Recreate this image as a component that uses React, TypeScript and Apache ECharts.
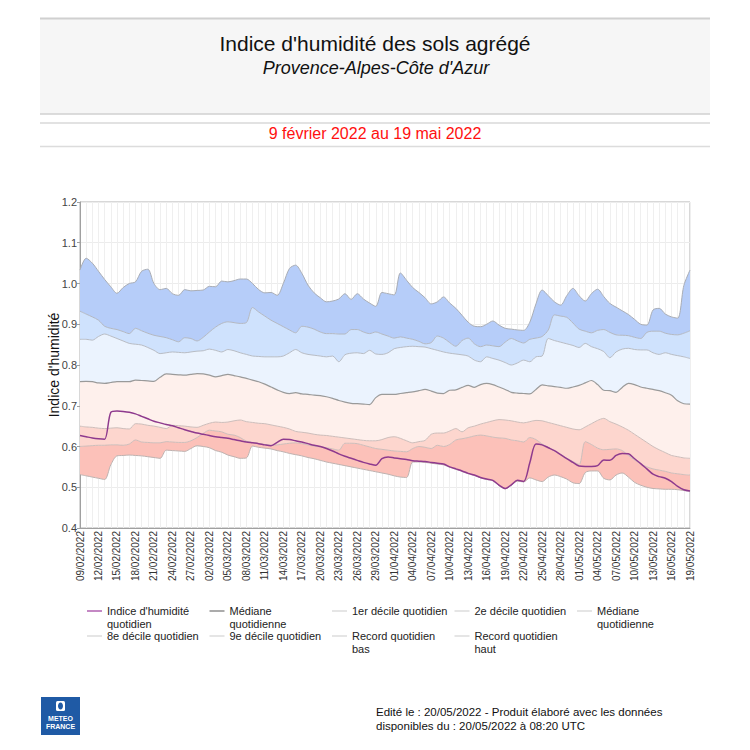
import { useEffect, useRef } from "react";
import * as echarts from "echarts";

// Categories: daily dates from 09/02/2022 to 19/05/2022
const START = Date.UTC(2022, 1, 9);
const dates: string[] = Array.from({ length: 100 }, (_, i) => {
  const d = new Date(START + i * 86400000);
  const dd = String(d.getUTCDate()).padStart(2, "0");
  const mm = String(d.getUTCMonth() + 1).padStart(2, "0");
  return `${dd}/${mm}/${d.getUTCFullYear()}`;
});

const indice = [
  0.627, 0.624, 0.621, 0.619, 0.618, 0.684, 0.687, 0.686, 0.684, 0.68,
  0.674, 0.668, 0.662, 0.658, 0.654, 0.651, 0.646, 0.641, 0.637, 0.633,
  0.63, 0.627, 0.624, 0.622, 0.62, 0.617, 0.614, 0.611, 0.609, 0.607,
  0.604, 0.602, 0.61, 0.618, 0.617, 0.614, 0.611, 0.607, 0.603, 0.6,
  0.595, 0.589, 0.582, 0.576, 0.571, 0.566, 0.561, 0.557, 0.554, 0.57,
  0.574, 0.572, 0.57, 0.568, 0.565, 0.564, 0.563, 0.561, 0.559, 0.557,
  0.55, 0.545, 0.54, 0.534, 0.53, 0.524, 0.52, 0.517, 0.505, 0.497,
  0.506, 0.517, 0.514, 0.56, 0.606, 0.604, 0.597, 0.59, 0.58, 0.57,
  0.561, 0.552, 0.551, 0.551, 0.553, 0.567, 0.566, 0.578, 0.583, 0.582,
  0.57, 0.558, 0.545, 0.532, 0.526, 0.522, 0.514, 0.502, 0.494, 0.491,
];

const recordBas = [
  0.531, 0.528, 0.525, 0.522, 0.519, 0.555, 0.577, 0.578, 0.579, 0.578,
  0.577, 0.575, 0.573, 0.571, 0.591, 0.59, 0.589, 0.588, 0.595, 0.602,
  0.6, 0.597, 0.59, 0.586, 0.579, 0.575, 0.571, 0.572, 0.601, 0.598,
  0.596, 0.594, 0.59, 0.587, 0.583, 0.58, 0.577, 0.573, 0.57, 0.566,
  0.562, 0.559, 0.556, 0.553, 0.55, 0.547, 0.544, 0.541, 0.538, 0.535,
  0.532, 0.528, 0.525, 0.524, 0.562, 0.562, 0.561, 0.559, 0.557, 0.555,
  0.549, 0.544, 0.539, 0.533, 0.529, 0.523, 0.519, 0.516, 0.504, 0.496,
  0.505, 0.515, 0.513, 0.523, 0.518, 0.514, 0.525, 0.53, 0.526, 0.52,
  0.511, 0.509, 0.536, 0.54, 0.54, 0.522, 0.518, 0.53, 0.535, 0.525,
  0.512, 0.505, 0.5, 0.497, 0.496, 0.495, 0.495, 0.494, 0.492, 0.49,
];

const decile1 = [
  0.6, 0.601, 0.602, 0.603, 0.603, 0.604, 0.604, 0.603, 0.606, 0.616,
  0.611, 0.61, 0.609, 0.609, 0.612, 0.611, 0.61, 0.61, 0.614, 0.622,
  0.632, 0.64, 0.638, 0.636, 0.63, 0.628, 0.622, 0.613, 0.61, 0.607,
  0.605, 0.603, 0.604, 0.606, 0.608, 0.609, 0.607, 0.604, 0.601, 0.599,
  0.597, 0.594, 0.591, 0.608, 0.608, 0.607, 0.603, 0.599, 0.595, 0.593,
  0.591, 0.589, 0.588, 0.587, 0.595, 0.6, 0.598, 0.595, 0.603, 0.6,
  0.605, 0.616, 0.619, 0.622, 0.626, 0.628, 0.626, 0.623, 0.621, 0.62,
  0.616, 0.614, 0.611, 0.622, 0.617, 0.606, 0.598, 0.589, 0.58, 0.571,
  0.563, 0.556, 0.612, 0.605, 0.596, 0.592, 0.593, 0.594, 0.59, 0.578,
  0.567, 0.557, 0.55, 0.545, 0.542, 0.539, 0.535, 0.533, 0.531, 0.53,
];

const decile2 = [
  0.65, 0.648, 0.647, 0.645, 0.644, 0.645, 0.646, 0.644, 0.643, 0.656,
  0.655, 0.652, 0.65, 0.647, 0.644, 0.652, 0.651, 0.65, 0.648, 0.647,
  0.652, 0.657, 0.66, 0.659, 0.66, 0.663, 0.665, 0.661, 0.659, 0.657,
  0.656, 0.653, 0.65, 0.647, 0.643, 0.637, 0.635, 0.633, 0.63, 0.628,
  0.627, 0.625, 0.623, 0.621, 0.619, 0.617, 0.615, 0.614, 0.614, 0.617,
  0.622, 0.624, 0.62, 0.614, 0.609, 0.612, 0.615, 0.63, 0.633, 0.633,
  0.638, 0.644, 0.636, 0.646, 0.65, 0.655, 0.659, 0.663, 0.666, 0.665,
  0.663, 0.66, 0.658, 0.661, 0.664, 0.663, 0.659, 0.655, 0.651, 0.647,
  0.643, 0.641, 0.648, 0.656, 0.664, 0.669, 0.661, 0.655, 0.648, 0.64,
  0.63, 0.62, 0.61, 0.6, 0.592, 0.585, 0.578, 0.575, 0.572, 0.571,
];

const mediane = [
  0.759, 0.76, 0.759, 0.756, 0.755, 0.757, 0.759, 0.759, 0.759, 0.763,
  0.762, 0.761, 0.76, 0.77, 0.778, 0.777, 0.776, 0.775, 0.777, 0.779,
  0.778, 0.775, 0.771, 0.774, 0.777, 0.774, 0.771, 0.767, 0.763, 0.759,
  0.753, 0.746, 0.739, 0.733, 0.73, 0.732, 0.729, 0.728, 0.726, 0.725,
  0.722, 0.718, 0.713, 0.709, 0.706, 0.705, 0.704, 0.703, 0.72, 0.728,
  0.728, 0.728, 0.73, 0.732, 0.734, 0.737, 0.74, 0.736, 0.731, 0.73,
  0.738, 0.739, 0.745, 0.75, 0.745, 0.752, 0.755, 0.752, 0.746, 0.74,
  0.733, 0.731, 0.73, 0.729, 0.74, 0.751, 0.749, 0.747, 0.745, 0.743,
  0.746, 0.75, 0.756, 0.762, 0.752, 0.738, 0.737, 0.733, 0.745, 0.755,
  0.752, 0.746, 0.743, 0.74, 0.737, 0.732, 0.726, 0.712, 0.705, 0.704,
];

const decile8 = [
  0.863, 0.863, 0.861, 0.87, 0.876, 0.871, 0.865, 0.859, 0.853, 0.851,
  0.849, 0.843, 0.836, 0.828, 0.83, 0.832, 0.831, 0.83, 0.832, 0.834,
  0.835, 0.839, 0.836, 0.832, 0.838, 0.835, 0.83, 0.826, 0.822, 0.821,
  0.82, 0.82, 0.82, 0.822, 0.83, 0.838, 0.83, 0.826, 0.824, 0.822,
  0.82, 0.822, 0.808, 0.825, 0.829, 0.83, 0.828, 0.836, 0.827, 0.826,
  0.83, 0.84, 0.843, 0.845, 0.846, 0.845, 0.844, 0.84, 0.836, 0.832,
  0.829, 0.827, 0.825, 0.822, 0.812, 0.808, 0.82, 0.816, 0.812, 0.806,
  0.8, 0.805, 0.812, 0.808, 0.82, 0.822, 0.865, 0.86, 0.856, 0.852,
  0.848, 0.843, 0.853, 0.845, 0.84, 0.833, 0.818, 0.832, 0.839, 0.841,
  0.838, 0.837, 0.837, 0.83, 0.826, 0.83, 0.826, 0.823, 0.82, 0.816,
];

const decile9 = [
  0.932, 0.925, 0.918, 0.91, 0.895, 0.89, 0.887, 0.882, 0.877, 0.89,
  0.884, 0.878, 0.873, 0.87, 0.867, 0.862, 0.857, 0.867, 0.865, 0.859,
  0.868, 0.881, 0.893, 0.902, 0.906, 0.904, 0.902, 0.904, 0.941, 0.93,
  0.92, 0.91, 0.902, 0.894, 0.886, 0.879, 0.895, 0.893, 0.888, 0.881,
  0.877, 0.877, 0.876, 0.876, 0.887, 0.887, 0.881, 0.877, 0.881, 0.876,
  0.871, 0.866, 0.869, 0.866, 0.863, 0.858, 0.852, 0.855, 0.871, 0.866,
  0.855, 0.846, 0.86, 0.866, 0.852, 0.845, 0.849, 0.847, 0.845, 0.856,
  0.865, 0.859, 0.854, 0.863, 0.866, 0.87, 0.886, 0.923, 0.92, 0.917,
  0.903, 0.888, 0.883, 0.879, 0.885, 0.887, 0.88, 0.874, 0.873, 0.872,
  0.868, 0.865, 0.88, 0.883, 0.883, 0.878, 0.875, 0.874, 0.878, 0.884,
];

const recordHaut = [
  1.033, 1.062, 1.05, 1.03, 1.01, 0.992, 0.976, 0.99, 1.0, 1.004,
  1.03, 1.035, 1.0, 0.985, 0.988, 0.975, 0.971, 0.985, 0.982, 0.983,
  0.984, 0.993, 0.992, 1.006, 1.004, 1.007, 1.011, 1.011, 1.0, 0.985,
  0.977, 0.978, 0.971, 1.0, 1.037, 1.045, 1.025, 0.996, 0.977, 0.965,
  0.955, 0.957, 0.962, 0.975, 0.961, 0.975, 0.962, 0.952, 0.944, 0.978,
  0.975, 0.972, 1.026, 1.008, 0.99, 0.978, 0.965, 0.95, 0.955, 0.967,
  0.952, 0.939, 0.922, 0.905, 0.895, 0.894, 0.9, 0.908, 0.898, 0.89,
  0.888, 0.886, 0.885, 0.905, 0.95, 0.984, 0.97, 0.955, 0.947, 0.97,
  0.988, 0.97, 0.957, 0.975, 0.986, 0.968, 0.951, 0.942, 0.933, 0.924,
  0.912, 0.9, 0.898, 0.935, 0.939, 0.925, 0.918, 0.915, 0.995, 1.033,
];

const Y_MIN = 0.4;
const Y_MAX = 1.2;
const Y_STEP = 0.1;

const FONT = "'Liberation Sans', Arial, sans-serif";
const SMOOTH = 0.3;

const diff = (a: number[], b: number[]) => a.map((v, i) => +(v - b[i]).toFixed(4));

export default function App() {
  const ref = useRef<HTMLDivElement>(null);

  useEffect(() => {
    if (!ref.current) return;
    const chart = echarts.init(ref.current, null, { renderer: "svg" });

    const bands = [
      { data: diff(decile1, recordBas), color: "#fcc1b9" },
      { data: diff(decile2, decile1), color: "#fdd6ce" },
      { data: diff(mediane, decile2), color: "#fef0ec" },
      { data: diff(decile8, mediane), color: "#ebf3fe" },
      { data: diff(decile9, decile8), color: "#cfe2fd" },
      { data: diff(recordHaut, decile9), color: "#b6cdf9" },
    ];

    const bandSeries: any[] = [
      {
        type: "line",
        data: recordBas,
        stack: "bands",
        stackStrategy: "all",
        symbol: "none",
        smooth: SMOOTH,
        silent: true,
        lineStyle: { width: 0, opacity: 0 },
        z: 1,
      },
      ...bands.map((b) => ({
        type: "line",
        data: b.data,
        stack: "bands",
        stackStrategy: "all",
        symbol: "none",
        smooth: SMOOTH,
        silent: true,
        lineStyle: { width: 0, opacity: 0 },
        areaStyle: { color: b.color, opacity: 1 },
        z: 1,
      })),
    ];

    const lineDefs = [
      { data: recordBas, color: "#bdb2b0", width: 1 },
      { data: decile1, color: "#cdbdba", width: 1 },
      { data: decile2, color: "#cdbdba", width: 1 },
      { data: mediane, color: "#9a9a9a", width: 1.2 },
      { data: decile8, color: "#b8bcc4", width: 1 },
      { data: decile9, color: "#b3b8c2", width: 1 },
      { data: recordHaut, color: "#a9adb5", width: 1 },
      { data: indice, color: "#8e3a8e", width: 1.5 },
    ];
    const lineSeries = lineDefs.map((l) => ({
      type: "line",
      data: l.data,
      symbol: "none",
      smooth: SMOOTH,
      silent: true,
      lineStyle: { color: l.color, width: l.width },
      z: 3,
    }));

    const legendItems = [
      { text: "Indice d'humidité\nquotidien", color: "#b060b0", col: 0, row: 0 },
      { text: "Médiane\nquotidienne", color: "#8f8f8f", col: 1, row: 0 },
      { text: "1er décile quotidien", color: "#dddddd", col: 2, row: 0 },
      { text: "2e décile quotidien", color: "#dddddd", col: 3, row: 0 },
      { text: "Médiane\nquotidienne", color: "#dddddd", col: 4, row: 0 },
      { text: "8e décile quotidien", color: "#dddddd", col: 0, row: 1 },
      { text: "9e décile quotidien", color: "#dddddd", col: 1, row: 1 },
      { text: "Record quotidien\nbas", color: "#dddddd", col: 2, row: 1 },
      { text: "Record quotidien\nhaut", color: "#dddddd", col: 3, row: 1 },
    ];
    const legendGraphics: any[] = [];
    legendItems.forEach((it) => {
      const x0 = 87 + it.col * 122.5;
      const y0 = 611 + it.row * 25;
      legendGraphics.push({
        type: "line",
        shape: { x1: x0, y1: y0, x2: x0 + 15, y2: y0 },
        style: { stroke: it.color, lineWidth: 1.5 },
        silent: true,
      });
      legendGraphics.push({
        type: "text",
        x: x0 + 20,
        y: y0 - 6,
        style: {
          text: it.text,
          fill: "#222",
          font: `11px ${FONT}`,
          lineHeight: 12.5,
          textVerticalAlign: "top",
        },
        silent: true,
      });
    });

    chart.setOption({
      animation: false,
      backgroundColor: "#ffffff",
      grid: {
        left: 80,
        right: 60,
        top: 202,
        bottom: 222,
        show: true,
        borderColor: "#b0b0b0",
        borderWidth: 1,
        backgroundColor: "transparent",
      },
      xAxis: {
        type: "category",
        data: dates,
        boundaryGap: false,
        axisLine: { show: true, lineStyle: { color: "#a0a0a0" } },
        axisTick: { show: false },
        axisLabel: {
          interval: 2,
          rotate: 90,
          fontSize: 10,
          color: "#333",
          fontFamily: FONT,
          margin: 3,
        },
        splitLine: { show: true, interval: 0, lineStyle: { color: "#efefef", width: 1 } },
      },
      yAxis: {
        type: "value",
        min: Y_MIN,
        max: Y_MAX,
        interval: Y_STEP,
        name: "Indice d'humidité",
        nameLocation: "middle",
        nameGap: 19,
        nameMoveOverlap: false,
        nameTextStyle: { fontSize: 14, color: "#111", fontFamily: FONT },
        axisLine: { show: true, lineStyle: { color: "#a0a0a0" } },
        axisTick: { show: true, length: 3, lineStyle: { color: "#a0a0a0" } },
        axisLabel: {
          fontSize: 11,
          color: "#444",
          fontFamily: FONT,
          margin: 3,
          formatter: (v: number) => v.toFixed(1),
        },
        splitLine: { show: true, lineStyle: { color: "#ececec", width: 1 } },
      },
      series: [...bandSeries, ...lineSeries],
      graphic: [
        { type: "rect", shape: { x: 40, y: 18, width: 670, height: 96 }, style: { fill: "#f6f6f6" }, silent: true, z: -1 },
        { type: "line", shape: { x1: 40, y1: 18.5, x2: 710, y2: 18.5 }, style: { stroke: "#d0d0d0", lineWidth: 2 }, silent: true },
        { type: "line", shape: { x1: 40, y1: 114, x2: 710, y2: 114 }, style: { stroke: "#d0d0d0", lineWidth: 1.5 }, silent: true },
        { type: "line", shape: { x1: 40, y1: 123, x2: 710, y2: 123 }, style: { stroke: "#e2e2e2", lineWidth: 2 }, silent: true },
        { type: "line", shape: { x1: 40, y1: 146.5, x2: 710, y2: 146.5 }, style: { stroke: "#dcdcdc", lineWidth: 1.5 }, silent: true },
        {
          type: "text",
          x: 375,
          y: 43,
          style: {
            text: "Indice d'humidité des sols agrégé",
            fill: "#111",
            font: `21px ${FONT}`,
            textAlign: "center",
            textVerticalAlign: "middle",
          },
          silent: true,
        },
        {
          type: "text",
          x: 376,
          y: 68,
          style: {
            text: "Provence-Alpes-Côte d'Azur",
            fill: "#111",
            font: `italic 18px ${FONT}`,
            textAlign: "center",
            textVerticalAlign: "middle",
          },
          silent: true,
        },
        {
          type: "text",
          x: 375,
          y: 133,
          style: {
            text: "9 février 2022 au 19 mai 2022",
            fill: "#ff1010",
            font: `16px ${FONT}`,
            textAlign: "center",
            textVerticalAlign: "middle",
          },
          silent: true,
        },
        ...legendGraphics,
        { type: "rect", shape: { x: 41, y: 697, width: 39, height: 38 }, style: { fill: "#1f5aa5" }, silent: true },
        { type: "rect", shape: { x: 56, y: 701, width: 9, height: 10, r: 1.5 }, style: { fill: "#ffffff" }, silent: true },
        { type: "ellipse", shape: { cx: 60.5, cy: 706, rx: 2.5, ry: 3.5 }, style: { fill: "#1f5aa5" }, silent: true },
        {
          type: "text",
          x: 60.5,
          y: 718,
          style: { text: "METEO", fill: "#fff", font: `bold 7px ${FONT}`, textAlign: "center", textVerticalAlign: "middle" },
          silent: true,
        },
        {
          type: "text",
          x: 60.5,
          y: 726,
          style: { text: "FRANCE", fill: "#fff", font: `bold 7px ${FONT}`, textAlign: "center", textVerticalAlign: "middle" },
          silent: true,
        },
        {
          type: "text",
          x: 376,
          y: 712,
          style: {
            text: "Edité le : 20/05/2022 - Produit élaboré avec les données",
            fill: "#111",
            font: `11.5px ${FONT}`,
            textVerticalAlign: "middle",
          },
          silent: true,
        },
        {
          type: "text",
          x: 376,
          y: 726,
          style: {
            text: "disponibles du : 20/05/2022 à 08:20 UTC",
            fill: "#111",
            font: `11.5px ${FONT}`,
            textVerticalAlign: "middle",
          },
          silent: true,
        },
      ],
    });

    return () => chart.dispose();
  }, []);

  return (
    <div
      ref={ref}
      style={{ position: "fixed", left: 0, top: 0, width: 750, height: 750, background: "#fff" }}
    />
  );
}
